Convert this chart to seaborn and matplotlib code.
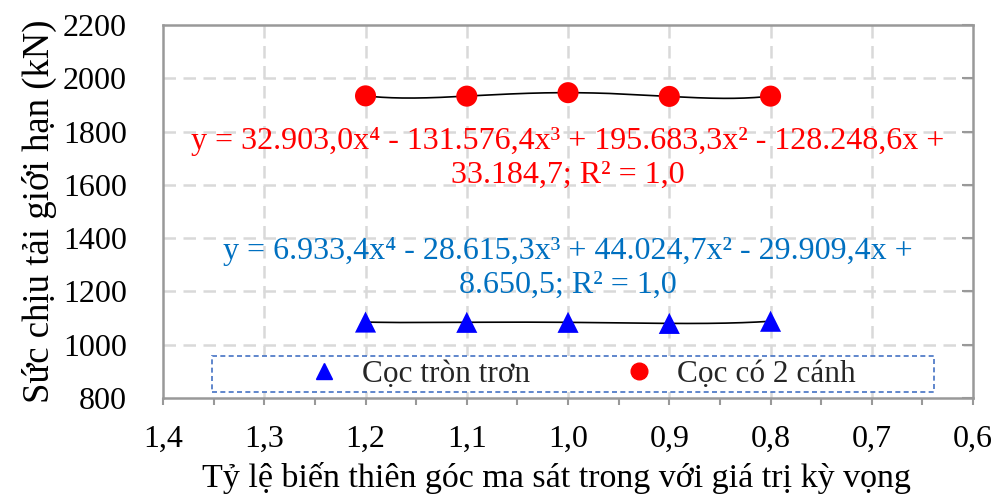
import numpy as np
import pandas as pd
import matplotlib
matplotlib.use("Agg")
import matplotlib.pyplot as plt
from matplotlib.lines import Line2D
from matplotlib.patches import Rectangle
import seaborn as sns

# Ratio of friction angle to its expected value
ratios = [1.2, 1.1, 1.0, 0.9, 0.8]
# Ultimate bearing capacity (kN)
smooth_round = [1085, 1084, 1084, 1080, 1088]
two_fin = [1934, 1933, 1946, 1932, 1933]

series_names = ["Cọc tròn trơn", "Cọc có 2 cánh"]
x_ticks = [1.4, 1.3, 1.2, 1.1, 1.0, 0.9, 0.8, 0.7, 0.6]
x_tick_labels = ["1,4", "1,3", "1,2", "1,1", "1,0", "0,9", "0,8", "0,7", "0,6"]
y_ticks = [800, 1000, 1200, 1400, 1600, 1800, 2000, 2200]

eq_two_fin = ("y = 32.903,0x⁴ - 131.576,4x³ + 195.683,3x² - 128.248,6x +\n"
              "33.184,7; R² = 1,0")
eq_smooth = ("y = 6.933,4x⁴ - 28.615,3x³ + 44.024,7x² - 29.909,4x +\n"
             "8.650,5; R² = 1,0")

sns.set_theme(style="white")
plt.rcParams["font.family"] = ["Liberation Serif", "DejaVu Serif"]

fig = plt.figure(figsize=(9.97, 4.97), dpi=100)
ax = fig.add_axes([0.1635, 0.1992, 0.8125, 0.7505])

grid_kw = dict(color="#d9d9d9", linewidth=1.8, linestyle=(0, (5, 3)), zorder=0)
ax.set_axisbelow(True)
for yv in y_ticks[1:-1]:
    ax.axhline(yv, **grid_kw)
for xv in x_ticks[1:-1]:
    ax.axvline(xv, **grid_kw)

df = pd.DataFrame({
    "ratio": ratios * 2,
    "capacity": smooth_round + two_fin,
    "series": [series_names[0]] * len(ratios) + [series_names[1]] * len(ratios),
})

# 4th-order polynomial trend lines through each series
xs = np.linspace(min(ratios), max(ratios), 200)
for vals in (smooth_round, two_fin):
    coef = np.polyfit(ratios, vals, 4)
    sns.lineplot(x=xs, y=np.polyval(coef, xs), color="black", linewidth=1.2,
                 ax=ax, zorder=2, sort=False)

sns.scatterplot(data=df, x="ratio", y="capacity", hue="series", style="series",
                palette={series_names[0]: "#0000ff", series_names[1]: "#ff0000"},
                markers={series_names[0]: "^", series_names[1]: "o"},
                s=230, edgecolor="none", ax=ax, zorder=3, legend=False)

ax.set_xlim(1.4, 0.6)
ax.set_ylim(800, 2200)
ax.set_xticks(x_ticks)
ax.set_xticklabels(x_tick_labels)
ax.set_xticks(np.arange(0.65, 1.4, 0.1), minor=True)
ax.set_yticks(y_ticks)
ax.tick_params(axis="x", which="both", direction="out", length=5, width=1.5,
               color="#999999", bottom=True, labelsize=23, pad=14, labelcolor="black")
ax.tick_params(axis="y", which="major", left=False, right=True, direction="in",
               length=8, width=1.5, color="#999999", labelsize=23, labelcolor="black",
               labelleft=True, labelright=False, pad=26)
for sp in ax.spines.values():
    sp.set_color("#999999")
    sp.set_linewidth(1.8)

ax.set_xlabel("Tỷ lệ biến thiên góc ma sát trong với giá trị kỳ vọng",
              fontsize=24.5, color="black")
ax.xaxis.set_label_coords(0.486, -0.172)
ax.set_ylabel("Sức chịu tải giới hạn (kN)", fontsize=26.5, color="black", labelpad=4)

ax.text(1.0, 1700, eq_two_fin, color="#ff0000", fontsize=23, ha="center",
        va="center", linespacing=1.22, zorder=4)
ax.text(1.0, 1288, eq_smooth, color="#0070c0", fontsize=23, ha="center",
        va="center", linespacing=1.22, zorder=4)

# Legend with a dashed frame
frame = Rectangle((0.0605, 0.016), 0.891, 0.0965, transform=ax.transAxes,
                  facecolor="white", edgecolor="#4472c4", linewidth=1.2,
                  linestyle=(0, (3, 2)), zorder=5)
ax.add_patch(frame)
handles = [
    Line2D([], [], marker="^", linestyle="none", color="#0000ff", markersize=12),
    Line2D([], [], marker="o", linestyle="none", color="#ff0000", markersize=12),
]
leg = ax.legend(handles, series_names, loc="center", ncol=2,
                bbox_to_anchor=(0.517, 0.064), frameon=False, fontsize=22.5,
                columnspacing=3.0, handletextpad=0.7, handlelength=1.0,
                borderaxespad=0)
leg.set_zorder(6)

fig.savefig("out.png", dpi=100)
